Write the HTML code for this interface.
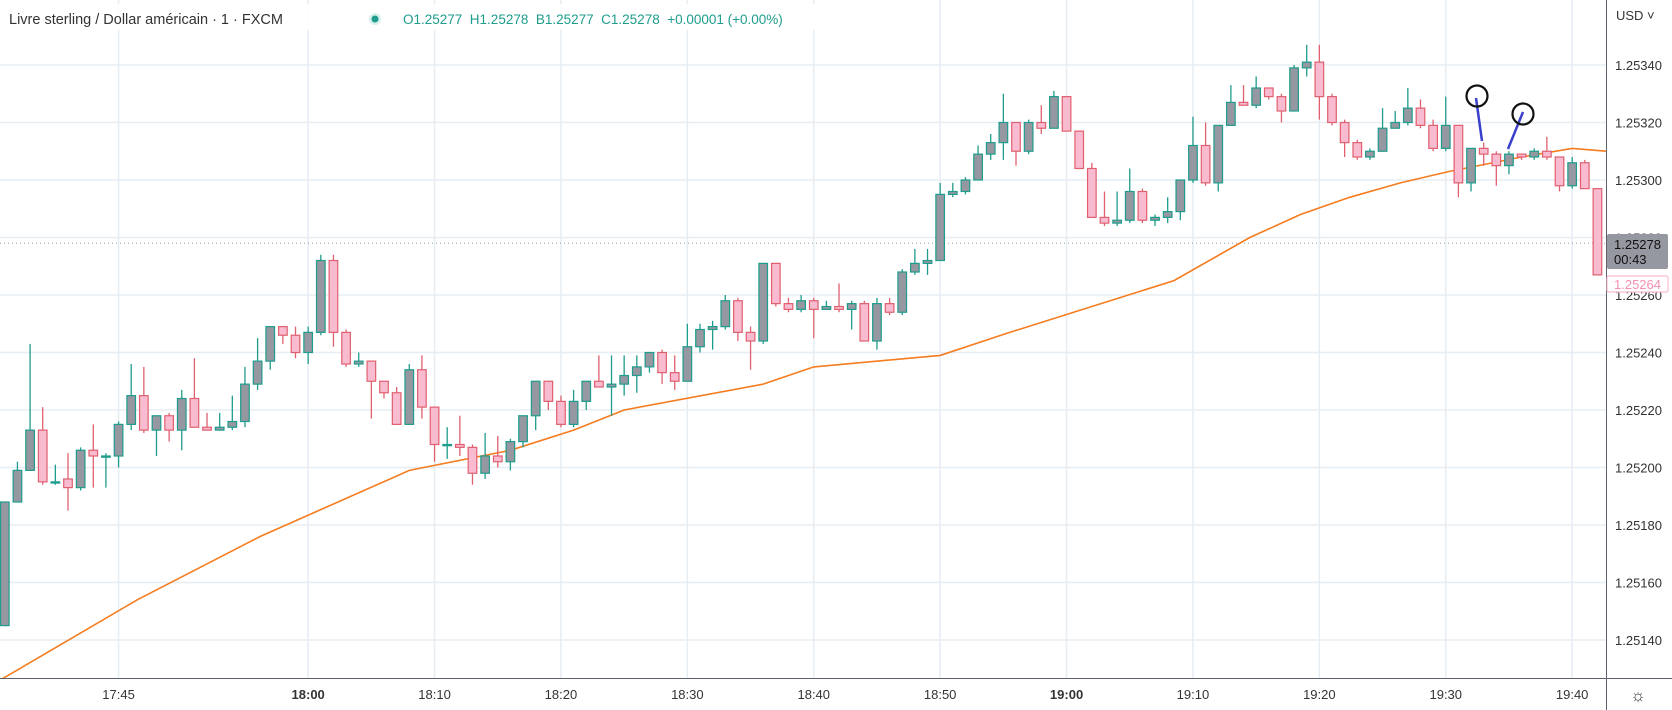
<!DOCTYPE html>
<html><head><meta charset="utf-8">
<style>
html,body{margin:0;padding:0;background:#fff;}
body{width:1672px;height:710px;overflow:hidden;position:relative;font-family:"Liberation Sans",sans-serif;}
svg{position:absolute;left:0;top:0;}
</style></head>
<body>
<svg id="chart" width="1672" height="710" xmlns="http://www.w3.org/2000/svg"></svg>
<script>
const opens=[1.25145,1.25188,1.25199,1.25213,1.25195,1.25196,1.25193,1.25206,1.25204,1.25204,1.25215,1.25225,1.25213,1.25218,1.25213,1.25224,1.25214,1.25213,1.25214,1.25216,1.25229,1.25237,1.25249,1.25246,1.25240,1.25247,1.25272,1.25247,1.25236,1.25237,1.25230,1.25226,1.25215,1.25234,1.25221,1.25208,1.25208,1.25207,1.25198,1.25204,1.25202,1.25209,1.25218,1.25230,1.25223,1.25215,1.25223,1.25230,1.25228,1.25229,1.25232,1.25235,1.25240,1.25233,1.25230,1.25242,1.25248,1.25249,1.25258,1.25247,1.25244,1.25271,1.25257,1.25255,1.25258,1.25255,1.25256,1.25255,1.25257,1.25244,1.25257,1.25254,1.25268,1.25271,1.25272,1.25295,1.25296,1.25300,1.25309,1.25313,1.25320,1.25310,1.25320,1.25318,1.25329,1.25317,1.25304,1.25287,1.25285,1.25286,1.25296,1.25286,1.25287,1.25289,1.25300,1.25312,1.25299,1.25319,1.25327,1.25326,1.25332,1.25329,1.25324,1.25339,1.25341,1.25329,1.25320,1.25313,1.25308,1.25310,1.25318,1.25320,1.25325,1.25319,1.25311,1.25319,1.25299,1.25311,1.25309,1.25305,1.25309,1.25308,1.25310,1.25308,1.25298,1.25306,1.25297];
const highs=[1.25188,1.25202,1.25243,1.25221,1.25201,1.25205,1.25207,1.25215,1.25205,1.25216,1.25236,1.25235,1.25218,1.25219,1.25227,1.25238,1.25219,1.25219,1.25225,1.25235,1.25245,1.25249,1.25249,1.25249,1.25249,1.25274,1.25274,1.25248,1.25240,1.25237,1.25230,1.25228,1.25236,1.25239,1.25221,1.25214,1.25218,1.25208,1.25212,1.25211,1.25210,1.25218,1.25230,1.25230,1.25225,1.25227,1.25230,1.25239,1.25239,1.25239,1.25239,1.25240,1.25241,1.25239,1.25250,1.25250,1.25251,1.25260,1.25259,1.25249,1.25271,1.25271,1.25259,1.25260,1.25259,1.25258,1.25264,1.25258,1.25258,1.25259,1.25259,1.25269,1.25276,1.25276,1.25299,1.25299,1.25301,1.25312,1.25316,1.25330,1.25320,1.25321,1.25326,1.25331,1.25329,1.25317,1.25306,1.25296,1.25296,1.25304,1.25297,1.25288,1.25294,1.25300,1.25322,1.25320,1.25319,1.25333,1.25333,1.25336,1.25332,1.25330,1.25340,1.25347,1.25347,1.25330,1.25321,1.25314,1.25311,1.25325,1.25324,1.25332,1.25328,1.25321,1.25329,1.25319,1.25311,1.25313,1.25310,1.25310,1.25309,1.25311,1.25315,1.25308,1.25308,1.25307,1.25297];
const lows=[1.25145,1.25188,1.25199,1.25194,1.25194,1.25185,1.25192,1.25193,1.25193,1.25200,1.25213,1.25212,1.25204,1.25209,1.25206,1.25214,1.25213,1.25213,1.25213,1.25214,1.25227,1.25234,1.25243,1.25238,1.25236,1.25246,1.25242,1.25235,1.25235,1.25217,1.25224,1.25215,1.25215,1.25217,1.25202,1.25203,1.25204,1.25194,1.25196,1.25200,1.25199,1.25207,1.25213,1.25220,1.25214,1.25214,1.25220,1.25228,1.25218,1.25225,1.25226,1.25233,1.25229,1.25227,1.25230,1.25240,1.25241,1.25248,1.25244,1.25234,1.25243,1.25256,1.25254,1.25254,1.25245,1.25255,1.25254,1.25248,1.25244,1.25241,1.25253,1.25253,1.25267,1.25267,1.25272,1.25294,1.25295,1.25300,1.25307,1.25307,1.25305,1.25309,1.25316,1.25318,1.25317,1.25304,1.25287,1.25284,1.25284,1.25285,1.25285,1.25284,1.25285,1.25286,1.25299,1.25298,1.25296,1.25319,1.25326,1.25325,1.25328,1.25320,1.25324,1.25336,1.25321,1.25319,1.25308,1.25307,1.25307,1.25310,1.25318,1.25319,1.25318,1.25310,1.25310,1.25294,1.25296,1.25305,1.25298,1.25302,1.25307,1.25307,1.25307,1.25296,1.25297,1.25297,1.25267];
const closes=[1.25188,1.25199,1.25213,1.25195,1.25195,1.25193,1.25206,1.25204,1.25204,1.25215,1.25225,1.25213,1.25218,1.25213,1.25224,1.25214,1.25213,1.25214,1.25216,1.25229,1.25237,1.25249,1.25246,1.25240,1.25247,1.25272,1.25247,1.25236,1.25237,1.25230,1.25226,1.25215,1.25234,1.25221,1.25208,1.25208,1.25207,1.25198,1.25204,1.25202,1.25209,1.25218,1.25230,1.25223,1.25215,1.25223,1.25230,1.25228,1.25229,1.25232,1.25235,1.25240,1.25233,1.25230,1.25242,1.25248,1.25249,1.25258,1.25247,1.25244,1.25271,1.25257,1.25255,1.25258,1.25255,1.25256,1.25255,1.25257,1.25244,1.25257,1.25254,1.25268,1.25271,1.25272,1.25295,1.25296,1.25300,1.25309,1.25313,1.25320,1.25310,1.25320,1.25318,1.25329,1.25317,1.25304,1.25287,1.25285,1.25286,1.25296,1.25286,1.25287,1.25289,1.25300,1.25312,1.25299,1.25319,1.25327,1.25326,1.25332,1.25329,1.25324,1.25339,1.25341,1.25329,1.25320,1.25313,1.25308,1.25310,1.25318,1.25320,1.25325,1.25319,1.25311,1.25319,1.25299,1.25311,1.25309,1.25305,1.25309,1.25308,1.25310,1.25308,1.25298,1.25306,1.25297,1.25267];
const maIndex=[-0.4,10.5,20.2,32,40,45,49,60,64,74,79.5,92.5,98.5,102.5,106.4,110.4,114.3,120,124,126.7];
const maValues=[1.25126,1.25154,1.25176,1.25199,1.25206,1.25213,1.25220,1.25229,1.25235,1.25239,1.25247,1.25265,1.25280,1.25288,1.25294,1.25299,1.25303,1.25308,1.25311,1.25310];
const priceTicks=[1.25340,1.25320,1.25300,1.25280,1.25260,1.25240,1.25220,1.25200,1.25180,1.25160,1.25140];
const timeTickLabels=["17:45","18:00","18:10","18:20","18:30","18:40","18:50","19:00","19:10","19:20","19:30","19:40"];
const timeTickIndex=[9,24,34,44,54,64,74,84,94,104,114,124];
const lastPrice=1.25278, bidPrice=1.25264;

const NS="http://www.w3.org/2000/svg";
const svg=document.getElementById('chart');
const PLOT_R=1606, PLOT_B=678;
function yOf(p){return 65+(1.25340-p)/0.0002*57.5;}
function xOf(i){return 4.8+12.64*i;}
function el(tag,attrs,parent){const e=document.createElementNS(NS,tag);for(const k in attrs)e.setAttribute(k,attrs[k]);(parent||svg).appendChild(e);return e;}

// grid
const grid=el('g',{});


priceTicks.forEach(p=>{const l=el('line',{x1:0,x2:PLOT_R,y1:yOf(p),y2:yOf(p),stroke:'#e6edf3','stroke-width':1.5},grid);

});
timeTickIndex.forEach(i=>{const l=el('line',{x1:xOf(i),x2:xOf(i),y1:0,y2:PLOT_B,stroke:'#e6edf3','stroke-width':1.5},grid);

});

// last price dotted line
const pl=el('line',{x1:0,x2:PLOT_R,y1:yOf(lastPrice),y2:yOf(lastPrice),stroke:'#9aa0a8','stroke-width':1,'stroke-dasharray':'1 3'});



// MA line
let d='';
maIndex.forEach((i,k)=>{d+=(k?'L':'M')+xOf(i).toFixed(1)+' '+yOf(maValues[k]).toFixed(1)+' ';});
const ma=el('path',{d:d,fill:'none',stroke:'#f57c1f','stroke-width':1.6});



// candles
const cg=el('g',{});


opens.forEach((o,i)=>{
  const c=closes[i],h=highs[i],lo=lows[i],up=c>=o;
  const col=up?'#1e9c8c':'#e06070', fill=up?'#9598a1':'#f8bbd0';
  const g=el('g',{},cg);
  
  
  const x=xOf(i);
  el('line',{x1:x,x2:x,y1:yOf(h),y2:yOf(lo),stroke:col,'stroke-width':1.3},g);
  const top=Math.min(yOf(o),yOf(c)),bh=Math.max(Math.abs(yOf(o)-yOf(c)),1.2);
  el('rect',{x:x-4.3,y:top,width:8.6,height:bh,fill:fill,stroke:col,'stroke-width':1.2},g);
});

// annotations
const an=el('g',{});


el('line',{x1:1476,y1:98,x2:1482,y2:141,stroke:'#3a3fcc','stroke-width':2.5},an);
el('circle',{cx:1477,cy:96,r:10.5,fill:'none',stroke:'#111','stroke-width':2.2},an);
el('line',{x1:1523,y1:112,x2:1508,y2:149,stroke:'#3a3fcc','stroke-width':2.5},an);
el('circle',{cx:1523,cy:114,r:10.5,fill:'none',stroke:'#111','stroke-width':2.2},an);

// axes
const ax=el('g',{});


el('rect',{x:PLOT_R,y:0,width:66,height:710,fill:'#fff'},ax);
el('line',{x1:PLOT_R+0.5,x2:PLOT_R+0.5,y1:0,y2:710,stroke:'#5d606b','stroke-width':1},ax);
priceTicks.forEach(p=>{const t=el('text',{x:1615,y:yOf(p)+5,'font-size':13,fill:'#333'},ax);t.textContent=p.toFixed(5);

});
const usd=el('text',{x:1616,y:20,'font-size':13,fill:'#333'},ax);usd.textContent='USD ˅';



const tx=el('g',{});


el('rect',{x:0,y:PLOT_B,width:PLOT_R,height:32,fill:'#fff'},tx);
el('line',{x1:0,x2:1672,y1:PLOT_B+0.5,y2:PLOT_B+0.5,stroke:'#5d606b','stroke-width':1},tx);
timeTickIndex.forEach((i,k)=>{const lab=timeTickLabels[k];const bold=(lab==='18:00'||lab==='19:00');
 const t=el('text',{x:xOf(i),y:699,'font-size':13,fill:'#333','text-anchor':'middle','font-weight':bold?'bold':'normal'},tx);t.textContent=lab;
 
 });
const gear=el('text',{x:1638,y:701,'font-size':17,fill:'#333','text-anchor':'middle'});gear.textContent='☼';



// price labels
const lp=el('g',{});


el('rect',{x:PLOT_R+1,y:234,width:61,height:35,fill:'#9598a1',rx:2},lp);
let t1=el('text',{x:1614,y:249,'font-size':13,fill:'#111'},lp);t1.textContent='1.25278';
let t2=el('text',{x:1614,y:264,'font-size':13,fill:'#111'},lp);t2.textContent='00:43';
const bp=el('g',{});


el('rect',{x:PLOT_R+1,y:276,width:61,height:16,fill:'#fff',stroke:'#f8bbd0','stroke-width':1.2,rx:2},bp);
let t3=el('text',{x:1614,y:289,'font-size':13,fill:'#f48fb1'},bp);t3.textContent=bidPrice.toFixed(5);

// header
const hd=el('g',{});


el('rect',{x:0,y:4,width:870,height:26,fill:'#fff',opacity:0.85},hd);
let ti=el('text',{x:9,y:24,'font-size':14.5,fill:'#333'},hd);ti.textContent='Livre sterling / Dollar américain · 1 · FXCM';


el('circle',{cx:375,cy:19,r:6,fill:'#d8f0ec'},hd);
el('circle',{cx:375,cy:19,r:3.5,fill:'#1e9c8c'},hd);
let ov=el('text',{x:403,y:24,'font-size':13.5,fill:'#1e9c8c'},hd);ov.textContent='O1.25277  H1.25278  B1.25277  C1.25278  +0.00001 (+0.00%)';
ov.setAttribute('xml:space','preserve');


ov.style.whiteSpace='pre';
</script>
</body></html>
